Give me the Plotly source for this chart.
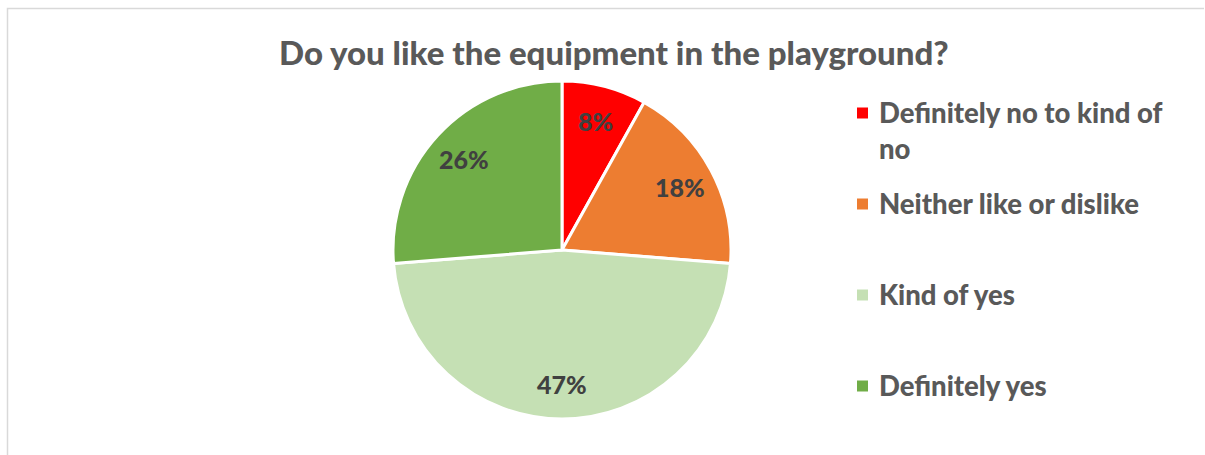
import math
import plotly.graph_objects as go

# Survey responses (percent of pupils)
labels = ["Definitely no to kind of no", "Neither like or dislike", "Kind of yes", "Definitely yes"]
legend_lines = ["Definitely no to kind of<br>no", "Neither like or dislike", "Kind of yes", "Definitely yes"]
values = [8, 18, 47, 26]
colors = ["#FF0000", "#ED7D31", "#C5E0B4", "#70AD47"]
title_text = "Do you like the equipment in the playground?"

W, H = 1205, 455
FONT = "Lato, 'Open Sans', sans-serif"

fig = go.Figure()

# pie centre and radius in pixels
cx, cy, r = 562, 250, 169
fig.add_trace(go.Pie(
    labels=labels,
    values=values,
    sort=False,
    direction="clockwise",
    rotation=0,
    marker=dict(colors=colors, line=dict(color="white", width=3)),
    textinfo="none",
    hoverinfo="label+value",
    showlegend=False,
    domain=dict(x=[(cx - r) / W, (cx + r) / W], y=[(H - cy - r) / H, (H - cy + r) / H]),
))

# chart frame: left and top edges as one open path
fx, fy = 7.5 / W, (H - 8.5) / H
shapes = [
    dict(type="path", xref="paper", yref="paper",
         path=f"M {fx} 0 L {fx} {fy} L {(W - 1) / W} {fy}",
         line=dict(color="#D9D9D9", width=1.5)),
]
annotations = [
    dict(text=title_text, xref="paper", yref="paper", x=613.5 / W, y=(H - 52) / H,
         xanchor="center", yanchor="middle", showarrow=False,
         font=dict(family=FONT, size=33, color="#595959", weight=900)),
]

# data labels placed at each slice's mid-angle, ~0.79 of the radius out
total = sum(values)
cum = 0
for v in values:
    mid = (cum + v / 2) / total * 2 * math.pi
    cum += v
    px = cx + 0.79 * r * math.sin(mid)
    py = cy - 0.79 * r * math.cos(mid)
    annotations.append(dict(text=f"{round(v / total * 100)}%", xref="paper", yref="paper",
                            x=px / W, y=(H - py) / H, xanchor="center", yanchor="middle",
                            showarrow=False,
                            font=dict(family=FONT, size=25, color="#404040", weight=900)))

# legend: square swatch plus bold label per category
legend_rows = [113, 204, 295, 386]
for name, col, row in zip(legend_lines, colors, legend_rows):
    shapes.append(dict(type="rect", xref="paper", yref="paper",
                       x0=857 / W, x1=868 / W, y0=(H - row - 5.5) / H, y1=(H - row + 5.5) / H,
                       fillcolor=col, line=dict(width=0)))
    annotations.append(dict(text=name, xref="paper", yref="paper",
                            x=877 / W, y=(H - row + 19) / H, xanchor="left", yanchor="top",
                            align="left", showarrow=False,
                            font=dict(family=FONT, size=27.5, color="#595959", weight=900)))

fig.update_layout(
    width=W, height=H,
    margin=dict(l=0, r=0, t=0, b=0),
    paper_bgcolor="white",
    plot_bgcolor="white",
    shapes=shapes,
    annotations=annotations,
)

fig.write_html("out.html", config=dict(displayModeBar=False))
